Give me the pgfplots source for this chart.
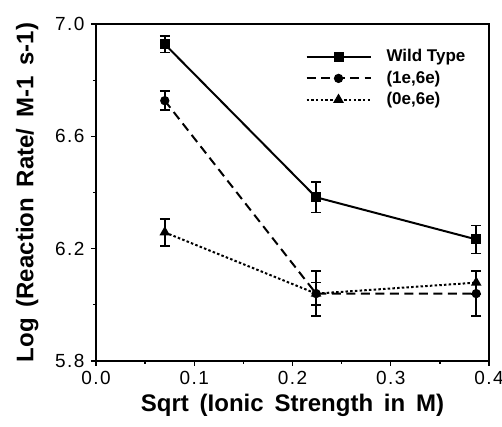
\documentclass[border=0pt]{standalone}
\usepackage{fontspec}
\setmainfont{Liberation Sans}
\newfontfamily\tickfont[LetterSpace=8]{Liberation Sans}
\usepackage{pgfplots}
\pgfplotsset{compat=1.18}
\begin{document}
\begin{tikzpicture}
\begin{axis}[
  at={(0,0)}, anchor=south west,
  scale only axis, width=393pt, height=337pt,
  xmin=0, xmax=0.4, ymin=5.8, ymax=7.0,
  xtick={0,0.1,0.2,0.3,0.4}, minor x tick num=1,
  ytick={5.8,6.2,6.6,7.0}, minor y tick num=1,
  tick pos=left, tick align=outside,
  major tick length=5pt, minor tick length=3pt,
  every tick/.style={line width=1.3pt, black},
  axis line style={line width=1.6pt},
  /pgf/number format/.cd, fixed, fixed zerofill, precision=1, assume math mode=true,
  /pgfplots/.cd,
  ticklabel style={font=\tickfont\fontsize{19}{19}\selectfont},
  xticklabel style={yshift=-2pt},
  yticklabel style={xshift=-3pt},
  xlabel={\bfseries Sqrt\hspace{0.45em}(Ionic\hspace{0.45em}Strength\hspace{0.45em}in\hspace{0.45em}M)},
  ylabel={\bfseries Log\hspace{0.45em}(Reaction\hspace{0.45em}Rate/\hspace{0.45em}M-1\hspace{0.45em}s-1)},
  label style={font=\fontsize{24}{24}\selectfont},
  xlabel style={at={(rel axis cs:0.5,-0.133)}, anchor=center},
  ylabel style={at={(rel axis cs:-0.175,0.5)}, anchor=center},
  legend style={draw=none, fill=none, at={(rel axis cs:0.525,0.937)}, anchor=north west,
    font=\bfseries\fontsize{17}{17}\selectfont, row sep=2pt,
    nodes={inner sep=2pt, text depth=3pt}},
  legend cell align=left,
  legend image code/.code={\draw[#1, mark repeat=2, mark phase=2] plot coordinates {(0pt,0pt) (32pt,0pt) (64pt,0pt)};},
  error bars/y dir=both, error bars/y explicit,
  error bars/error mark options={rotate=90, mark size=4.8pt, line width=1.6pt, black},
  error bars/error bar style={line width=1.6pt, black, solid},
]
\addplot[black, line width=2pt, mark=square*, mark size=4pt, mark options={solid}]
  coordinates {(0.070,6.928) +- (0,0.030) (0.224,6.383) +- (0,0.054) (0.387,6.233) +- (0,0.050)};
\addlegendentry{\hspace{13pt}Wild Type}
\addplot[black, line width=2pt, dash pattern=on 9pt off 5.5pt, mark=*, mark size=3.6pt, mark options={solid}]
  coordinates {(0.070,6.727) +- (0,0.034) (0.224,6.040) +- (0,0.080) (0.387,6.040) +- (0,0.080)};
\addlegendentry{\hspace{13pt}(1e,6e)}
\addplot[black, line width=2pt, dash pattern=on 2.5pt off 2.2pt, mark=triangle*, mark size=4.2pt, mark options={solid}]
  coordinates {(0.070,6.258) +- (0,0.048) (0.224,6.040) +- (0,0.040) (0.387,6.079) +- (0,0.040)};
\addlegendentry{\hspace{13pt}(0e,6e)}
\end{axis}
\pgfresetboundingbox
\path[use as bounding box] (-96pt,-66pt) rectangle (406pt,361pt);
\end{tikzpicture}
\end{document}
